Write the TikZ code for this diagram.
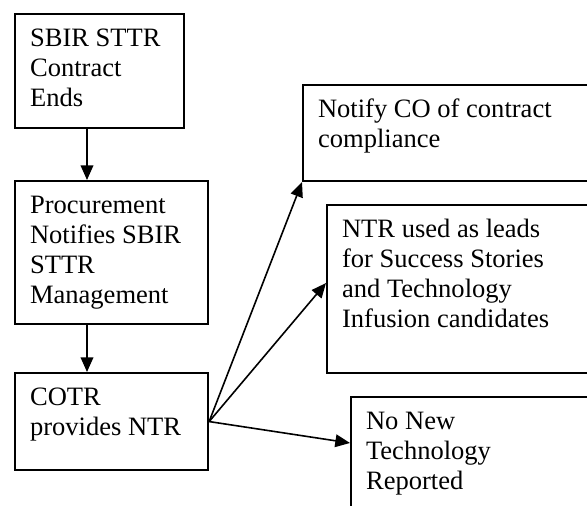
\documentclass[tikz,border=0pt]{standalone}
\usepackage{fontspec}
\setmainfont{Liberation Serif}
\usetikzlibrary{arrows.meta}

\newcommand{\stagetext}[3]{\parbox[t][#2][t]{#1}{\raggedright\strut #3}}
\tikzset{
  stage/.style={draw,line width=1.6pt,anchor=north west,inner xsep=11.25pt,inner ysep=8.25pt,
    font=\fontsize{19.9pt}{22.5pt}\selectfont},
  flow/.style={line width=1.2pt,-{Triangle[length=11pt,width=9.5pt]}}
}

\begin{document}
\begin{tikzpicture}[x=0.75pt,y=-0.75pt]
\useasboundingbox (0,0) rectangle (587,506);
\clip (0,0) rectangle (587,506);
% left column
\node[stage] (ends) at (14,13) {\stagetext{104.25pt}{69pt}{SBIR STTR\\Contract\\Ends}};
\node[stage] (proc) at (14,180) {\stagetext{122.25pt}{90.75pt}{Procurement\\Notifies SBIR\\STTR\\Management}};
\node[stage] (cotr) at (14,372) {\stagetext{122.25pt}{56.25pt}{COTR\\provides NTR}};
% outcomes, cut at the right edge
\node[stage] (notify) at (302,84) {\stagetext{201pt}{55.5pt}{Notify CO of contract\\compliance}};
\node[stage] (leads) at (326,204) {\stagetext{183pt}{109.5pt}{NTR used as leads\\for Success Stories\\and Technology\\Infusion candidates}};
\node[stage] (nonew) at (350,396) {\stagetext{165pt}{88.5pt}{No New\\Technology\\Reported}};
% flow
\draw[flow] ([xshift=54.75pt]ends.south west) -- ([xshift=54.75pt]proc.north west);
\draw[flow] ([xshift=54.75pt]proc.south west) -- ([xshift=54.75pt]cotr.north west);
\draw[flow] (cotr.east) -- (notify.south west);
\draw[flow] (cotr.east) -- ([yshift=4.5pt]leads.west);
\draw[flow] (cotr.east) -- ([yshift=-35.25pt]nonew.north west);
\end{tikzpicture}
\end{document}
